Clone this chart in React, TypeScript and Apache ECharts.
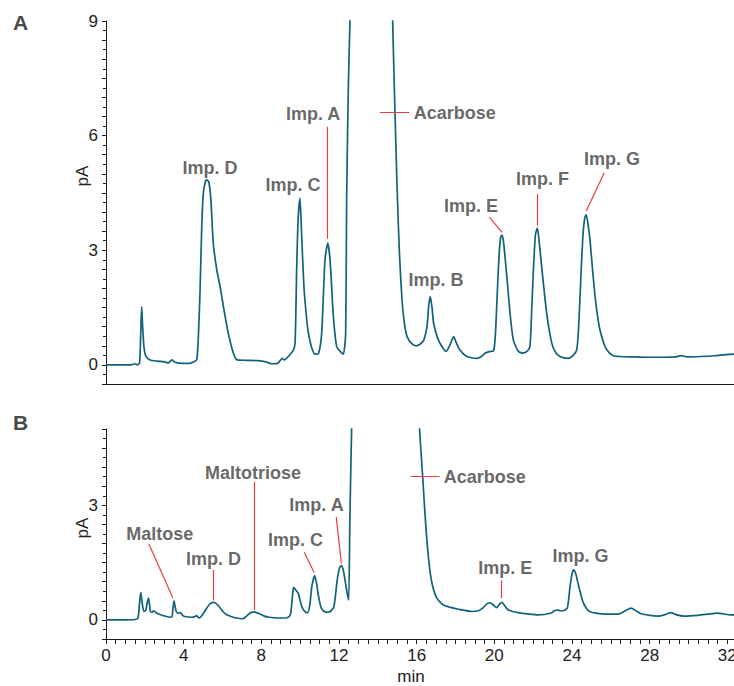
import React, { useEffect, useRef } from "react";
import * as echarts from "echarts";

// ---- Data (time in min, signal in pA) ----
const traceA: [number, number][] = [
  [0, 0.0], [1.3, 0.0], [1.45, 0.03], [1.6, 0.0], [1.72, 0.05], [1.78, 0.8], [1.83, 1.52], [1.88, 1.0],
  [1.95, 0.45], [2.05, 0.22], [2.26, 0.13], [2.6, 0.1], [3.0, 0.08], [3.2, 0.05], [3.37, 0.13], [3.55, 0.07],
  [3.9, 0.04], [4.3, 0.04], [4.5, 0.08], [4.65, 0.13], [4.73, 0.65], [4.82, 1.88], [4.91, 3.62], [4.99, 4.49],
  [5.08, 4.76], [5.15, 4.84], [5.22, 4.82], [5.28, 4.78], [5.38, 4.32], [5.5, 3.19], [5.68, 2.49], [5.85, 2.05],
  [6.05, 1.44], [6.27, 0.83], [6.53, 0.31], [6.73, 0.13], [7.2, 0.12], [7.8, 0.11], [8.2, 0.08], [8.5, 0.03],
  [8.8, 0.04], [9.04, 0.17], [9.15, 0.13], [9.35, 0.22], [9.61, 0.39], [9.7, 0.6], [9.78, 2.57], [9.86, 3.88],
  [9.95, 4.36], [10.03, 3.45], [10.15, 2.05], [10.29, 1.2], [10.38, 0.83], [10.55, 0.45], [10.72, 0.28],
  [10.9, 0.3], [11.06, 0.83], [11.23, 2.75], [11.37, 3.19], [11.49, 2.75], [11.66, 1.26], [11.83, 0.48],
  [12.0, 0.36], [12.17, 0.28], [12.29, 0.83], [12.34, 4.32], [12.43, 7.37], [12.51, 9.0], [12.62, 13],
  [13.0, 40], [13.6, 55], [14.2, 35], [14.62, 11], [14.7, 9.0], [14.82, 6.6], [14.92, 4.76], [15.04, 3.01],
  [15.18, 1.7], [15.3, 1.1], [15.44, 0.74], [15.69, 0.55], [15.91, 0.5], [16.1, 0.54], [16.29, 0.64],
  [16.46, 1.0], [16.55, 1.55], [16.63, 1.79], [16.72, 1.5], [16.8, 1.09], [17.01, 0.7], [17.2, 0.5],
  [17.44, 0.35], [17.62, 0.5], [17.83, 0.74], [17.95, 0.6], [18.09, 0.44], [18.3, 0.3], [18.51, 0.22],
  [18.8, 0.18], [19.03, 0.17], [19.25, 0.22], [19.45, 0.31], [19.7, 0.35], [19.88, 0.37], [19.97, 0.8],
  [20.05, 1.7], [20.15, 2.8], [20.24, 3.35], [20.31, 3.4], [20.39, 3.2], [20.54, 2.4], [20.72, 1.35],
  [20.89, 0.65], [21.15, 0.35], [21.4, 0.31], [21.6, 0.36], [21.74, 0.48], [21.82, 1.3], [21.91, 2.4],
  [22.02, 3.4], [22.12, 3.58], [22.22, 3.2], [22.34, 2.57], [22.6, 1.35], [22.86, 0.57], [23.05, 0.33],
  [23.28, 0.22], [23.71, 0.17], [23.95, 0.25], [24.14, 0.39], [24.24, 1.0], [24.36, 2.4], [24.46, 3.4],
  [24.55, 3.85], [24.62, 3.93], [24.7, 3.75], [24.82, 3.27], [24.95, 2.5], [25.08, 1.79], [25.2, 1.3],
  [25.33, 0.92], [25.59, 0.48], [25.8, 0.32], [26.02, 0.24], [26.37, 0.22], [27.0, 0.21], [27.8, 0.2],
  [28.5, 0.2], [29.2, 0.21], [29.5, 0.24], [29.8, 0.21], [30.5, 0.22], [31.2, 0.24], [31.8, 0.27], [32.2, 0.28],
  [32.5, 0.28],
];

const traceB: [number, number][] = [
  [0, 0], [1.0, 0], [1.5, 0.01], [1.65, 0.05], [1.72, 0.4], [1.79, 0.72], [1.86, 0.45], [1.95, 0.22],
  [2.05, 0.25], [2.12, 0.45], [2.19, 0.57], [2.24, 0.4], [2.29, 0.22], [2.38, 0.2], [2.46, 0.24], [2.6, 0.18],
  [2.85, 0.13], [3.11, 0.09], [3.3, 0.07], [3.4, 0.08], [3.45, 0.3], [3.5, 0.5], [3.56, 0.35], [3.62, 0.22],
  [3.72, 0.17], [3.83, 0.19], [3.95, 0.12], [4.05, 0.09], [4.39, 0.07], [4.55, 0.08], [4.65, 0.11],
  [4.75, 0.07], [4.82, 0.05], [4.95, 0.12], [5.08, 0.22], [5.33, 0.41], [5.54, 0.46], [5.76, 0.39],
  [6.02, 0.22], [6.2, 0.14], [6.44, 0.09], [6.7, 0.05], [7.04, 0.03], [7.2, 0.08], [7.3, 0.13], [7.45, 0.19],
  [7.59, 0.21], [7.75, 0.19], [7.9, 0.16], [8.15, 0.1], [8.41, 0.07], [8.8, 0.05], [9.27, 0.05], [9.45, 0.1],
  [9.52, 0.18], [9.6, 0.6], [9.66, 0.85], [9.75, 0.8], [9.9, 0.7], [10.0, 0.5], [10.12, 0.31], [10.25, 0.22],
  [10.38, 0.19], [10.5, 0.4], [10.6, 0.87], [10.75, 1.16], [10.85, 0.95], [10.92, 0.7], [11.0, 0.48],
  [11.09, 0.31], [11.25, 0.22], [11.4, 0.2], [11.6, 0.24], [11.74, 0.35], [11.82, 0.65], [11.91, 1.05],
  [12.02, 1.35], [12.12, 1.42], [12.22, 1.3], [12.31, 1.05], [12.42, 0.7], [12.5, 0.52], [12.56, 2.62],
  [12.65, 4.97], [12.72, 6.5], [13.2, 35], [14.0, 55], [15.0, 35], [15.7, 12], [16.05, 6.3], [16.15, 4.99],
  [16.31, 3.75], [16.45, 2.62], [16.62, 1.57], [16.79, 0.96], [17.04, 0.57], [17.38, 0.39], [17.8, 0.32],
  [18.15, 0.28], [18.84, 0.22], [19.18, 0.24], [19.45, 0.33], [19.62, 0.42], [19.78, 0.45], [19.95, 0.39],
  [20.12, 0.32], [20.25, 0.4], [20.38, 0.46], [20.55, 0.36], [20.72, 0.26], [21.23, 0.19], [21.8, 0.15],
  [22.26, 0.13], [22.94, 0.18], [23.1, 0.24], [23.25, 0.26], [23.4, 0.24], [23.54, 0.24], [23.76, 0.31],
  [23.9, 0.87], [24.0, 1.2], [24.09, 1.31], [24.2, 1.2], [24.31, 0.96], [24.45, 0.68], [24.56, 0.48],
  [24.75, 0.3], [24.91, 0.22], [25.3, 0.17], [25.68, 0.15], [26.45, 0.16], [26.75, 0.24], [27.04, 0.31],
  [27.3, 0.24], [27.56, 0.16], [28.0, 0.12], [28.41, 0.1], [28.8, 0.14], [29.09, 0.19], [29.4, 0.13],
  [29.78, 0.1], [30.5, 0.12], [31.0, 0.15], [31.49, 0.18], [32.2, 0.13], [32.5, 0.13],
];

// Annotations: [text, time, pA, align]
const labelsA: [string, number, number, string][] = [
  ["Imp. D", 5.33, 5.14, "center"],
  ["Imp. C", 9.59, 4.71, "center"],
  ["Imp. A", 10.62, 6.57, "center"],
  ["Acarbose", 15.78, 6.6, "left"],
  ["Imp. B", 16.92, 2.23, "center"],
  ["Imp. E", 18.72, 4.16, "center"],
  ["Imp. F", 22.39, 4.87, "center"],
  ["Imp. G", 25.95, 5.39, "center"],
];
const leadersA: [number, number, number, number][] = [
  [11.37, 6.23, 11.37, 3.3],
  [14.04, 6.6, 15.55, 6.6],
  [19.66, 3.87, 20.31, 3.47],
  [22.1, 4.47, 22.1, 3.65],
  [25.55, 5.03, 24.63, 4.03],
];
const labelsB: [string, number, number, string][] = [
  ["Maltose", 2.77, 2.24, "center"],
  ["Imp. D", 5.54, 1.6, "center"],
  ["Maltotriose", 7.57, 3.85, "center"],
  ["Imp. C", 9.76, 2.1, "center"],
  ["Imp. A", 10.84, 3.01, "center"],
  ["Acarbose", 17.4, 3.75, "left"],
  ["Imp. E", 20.56, 1.36, "center"],
  ["Imp. G", 24.44, 1.67, "center"],
];
const leadersB: [number, number, number, number][] = [
  [2.21, 1.99, 3.45, 0.57],
  [5.5, 1.31, 5.5, 0.51],
  [7.61, 3.62, 7.61, 0.26],
  [10.21, 1.77, 10.72, 1.24],
  [11.86, 2.7, 12.12, 1.48],
  [15.69, 3.75, 17.18, 3.75],
  [20.34, 1.03, 20.34, 0.57],
];

const yLabelsA = [0, 3, 6, 9];
const yLabelsB = [0, 3];
const xLabels = [0, 4, 8, 12, 16, 20, 24, 28, 32];

const FONT = "'Liberation Sans', Arial, Helvetica, sans-serif";
const TRACE = "#12617a";
const RED = "#e8403f";
const AXIS = "#1a1a1a";

function labelFmt(list: number[]) {
  return (v: number) => (list.some((t) => Math.abs(t - v) < 1e-6) ? String(v) : "");
}

export default function App() {
  const ref = useRef<HTMLDivElement>(null);
  useEffect(() => {
    if (!ref.current) return;
    const chart = echarts.init(ref.current, undefined, { renderer: "svg" });

    const yAxisCommon = (max: number, list: number[], gridIndex: number) => ({
      type: "value",
      gridIndex,
      min: -0.5,
      max,
      interval: 0.5,
      splitLine: { show: false },
      axisLine: { show: true, onZero: false, lineStyle: { color: AXIS, width: 1 } },
      axisTick: { show: true, length: 4, lineStyle: { color: AXIS } },
      minorTick: { show: true, splitNumber: 2, length: 3, lineStyle: { color: AXIS } },
      axisLabel: {
        interval: 0,
        margin: 8,
        formatter: labelFmt(list),
        color: "#222",
        fontSize: 17,
        fontFamily: FONT,
      },
    });

    const labelSeries = (labels: [string, number, number, string][], idx: number) => ({
      type: "scatter",
      xAxisIndex: idx,
      yAxisIndex: idx,
      symbolSize: 1,
      silent: true,
      itemStyle: { color: "transparent" },
      z: 5,
      data: labels.map(([text, t, v, align]) => ({
        value: [t, v],
        name: text,
        label: {
          show: true,
          position: "inside",
          align,
          verticalAlign: "middle",
          formatter: text,
          fontSize: 18,
          fontWeight: "bold",
          color: "#3f3f3f",
          fontFamily: FONT,
        },
      })),
    });

    const leaderSeries = (leaders: [number, number, number, number][], idx: number) => ({
      type: "lines",
      coordinateSystem: "cartesian2d",
      xAxisIndex: idx,
      yAxisIndex: idx,
      silent: true,
      z: 4,
      lineStyle: { color: RED, width: 1.2, opacity: 1 },
      data: leaders.map(([t1, v1, t2, v2]) => ({ coords: [[t1, v1], [t2, v2]] })),
    });

    // x range 0..32.5 at 19.5 px/min; the chart is wider than the page and cropped at 734 px
    chart.setOption({
      animation: false,
      grid: [
        { left: 106, top: 21, width: 633.75, height: 363 },
        { left: 106, top: 429, width: 633.75, height: 210 },
      ],
      xAxis: [
        {
          type: "value",
          gridIndex: 0,
          min: 0,
          max: 32.5,
          interval: 0.5,
          axisLine: { show: true, onZero: false, lineStyle: { color: AXIS } },
          axisTick: { show: false },
          axisLabel: { show: false },
          splitLine: { show: false },
        },
        {
          type: "value",
          gridIndex: 1,
          min: 0,
          max: 32.5,
          interval: 0.5,
          axisLine: { show: true, onZero: false, lineStyle: { color: AXIS } },
          axisTick: { show: true, length: 5, lineStyle: { color: AXIS } },
          axisLabel: {
            interval: 0,
            margin: 8,
            formatter: labelFmt(xLabels),
            color: "#222",
            fontSize: 17,
            fontFamily: FONT,
          },
          splitLine: { show: false },
        },
      ],
      yAxis: [yAxisCommon(9, yLabelsA, 0), yAxisCommon(5, yLabelsB, 1)],
      series: [
        {
          type: "line",
          xAxisIndex: 0,
          yAxisIndex: 0,
          data: traceA,
          showSymbol: false,
          symbol: "none",
          smooth: 0.2,
          clip: true,
          lineStyle: { color: TRACE, width: 1.7 },
          z: 3,
        },
        {
          type: "line",
          xAxisIndex: 1,
          yAxisIndex: 1,
          data: traceB,
          showSymbol: false,
          symbol: "none",
          smooth: 0.2,
          clip: true,
          lineStyle: { color: TRACE, width: 1.7 },
          z: 3,
        },
        leaderSeries(leadersA, 0),
        leaderSeries(leadersB, 1),
        labelSeries(labelsA, 0),
        labelSeries(labelsB, 1),
      ],
      graphic: [
        {
          type: "text",
          x: 20.5,
          y: 22.5,
          style: { text: "A", fontSize: 21, fontWeight: "bold", fill: "#4a4a4a", fontFamily: FONT, align: "center", verticalAlign: "middle" },
        },
        {
          type: "text",
          x: 20.5,
          y: 422.5,
          style: { text: "B", fontSize: 21, fontWeight: "bold", fill: "#4a4a4a", fontFamily: FONT, align: "center", verticalAlign: "middle" },
        },
        {
          type: "text",
          x: 82,
          y: 176,
          rotation: Math.PI / 2,
          style: { text: "pA", fontSize: 17, fill: "#222", fontFamily: FONT, align: "center", verticalAlign: "middle" },
        },
        {
          type: "text",
          x: 82,
          y: 528,
          rotation: Math.PI / 2,
          style: { text: "pA", fontSize: 17, fill: "#222", fontFamily: FONT, align: "center", verticalAlign: "middle" },
        },
        {
          type: "text",
          x: 411,
          y: 676,
          style: { text: "min", fontSize: 17, fill: "#222", fontFamily: FONT, align: "center", verticalAlign: "middle" },
        },
      ],
    });
    return () => chart.dispose();
  }, []);

  return (
    <div style={{ position: "fixed", left: 0, top: 0, width: 734, height: 686, overflow: "hidden", background: "#fff" }}>
      <div ref={ref} style={{ width: 740, height: 686 }} />
    </div>
  );
}
